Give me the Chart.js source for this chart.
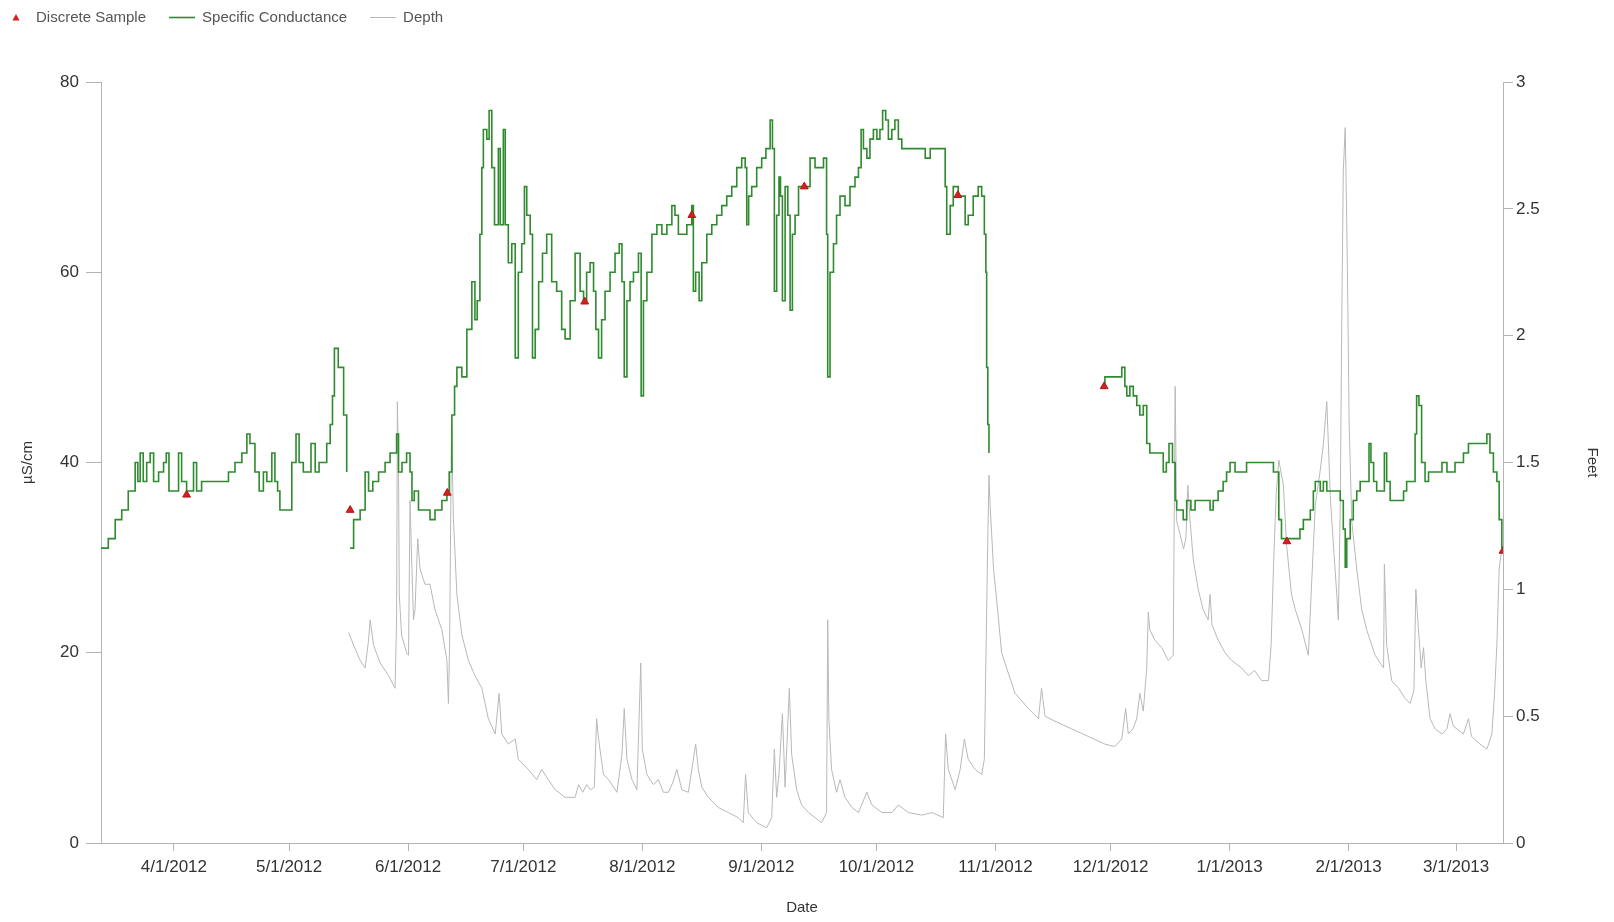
<!DOCTYPE html>
<html>
<head>
<meta charset="utf-8">
<title>Specific Conductance and Depth</title>
<script src="https://cdn.jsdelivr.net/npm/chart.js@4.4.1/dist/chart.umd.min.js"></script>
<style>
  html, body { margin: 0; padding: 0; background: #ffffff; }
  #wrap { width: 1614px; height: 922px; }
</style>
</head>
<body>
<div id="wrap"><canvas id="chart" width="1614" height="922"></canvas></div>
<script>
// Record period and axis ticks
const startDate = '3/13/2012';
const endDay = 365.2; // days after startDate shown at the right edge
const dateTicks = ['4/1/2012', '5/1/2012', '6/1/2012', '7/1/2012', '8/1/2012', '9/1/2012',
                   '10/1/2012', '11/1/2012', '12/1/2012', '1/1/2013', '2/1/2013', '3/1/2013'];
const scTicks = [0, 20, 40, 60, 80];
const depthTicks = [0, 0.5, 1, 1.5, 2, 2.5, 3];

// Discrete samples (days after startDate, µS/cm)
const sampleDay   = [22.3, 64.9, 90.2, 126.0, 153.9, 183.2, 223.2, 261.3, 308.9, 365.2];
const sampleValue = [36.6, 35.0, 36.8, 56.9, 66.0, 69.0, 68.1, 48.0, 31.7, 30.7];

// Continuous specific conductance (days after startDate, µS/cm); null = no record
const scDay = [
  0, 1.9, 3.7, 5.4, 7.1, 8.4, 8.9, 9.6, 10.2, 11.0, 11.9, 12.8, 13.7, 15.0, 16.3, 17.0, 17.7, 18.9,
  20.2, 21.0, 22.3, 24.1, 24.9, 26.2, 30.6, 31.9, 33.2, 34.9, 36.7, 38.0, 38.8, 40.1, 41.2, 42.3,
  43.2, 44.5, 45.3, 46.0, 46.6, 48.4, 49.7, 50.8, 51.6, 52.7, 54.7, 55.8, 56.8, 57.9, 58.8, 59.7,
  60.3, 60.8, 61.0, 61.8, 62.3, 63.2, 64.0, 64.4,
  64.9, 65.8, 66.6, 67.5, 68.8, 69.7, 70.8, 72.3, 74.0, 75.3, 76.6, 77.0, 77.5, 78.4, 79.6, 80.5,
  81.0, 81.6, 82.7, 84.0, 85.7, 87.0, 88.8, 90.1, 90.7, 91.4, 92.1, 92.7, 94.0, 95.3, 96.6, 97.4,
  98.0, 98.7, 99.2, 99.6, 100.5, 101.1, 101.8, 102.5, 103.5, 104.0, 104.8, 105.3, 106.1, 107.0,
  107.9, 108.7, 109.6, 110.3, 110.9, 111.8, 112.4, 113.1, 114.0, 115.0, 116.1, 117.4, 118.7, 120.0,
  120.9, 122.2, 123.5, 124.8, 125.7, 126.5, 127.4, 128.3, 128.9, 129.6, 130.4, 131.3, 132.6, 133.9,
  135.0, 135.7, 136.3, 137.0, 137.8, 138.7, 140.0, 140.7, 141.3, 142.2, 143.5, 144.8, 146.1, 147.4,
  148.7, 149.5, 150.4, 151.3, 152.6, 153.9, 154.3, 154.9, 155.8, 156.5, 157.8, 159.1, 160.4, 161.7,
  163.0, 164.3, 165.6, 166.9, 167.8, 168.2, 168.7, 169.5, 170.8, 172.1, 173.2, 174.3, 174.9, 175.4,
  176.0, 176.6, 177.0, 177.5, 178.2, 178.9, 179.5, 180.1, 180.8, 181.7, 182.5, 183.4, 184.7, 186.0,
  187.3, 188.2, 189.0, 189.3, 189.9, 190.8, 191.6, 192.5, 193.8, 195.1, 196.4, 197.3, 198.0, 198.6,
  199.5, 200.3, 201.2, 202.1, 202.9, 203.6, 204.4, 205.1, 206.0, 206.8, 207.7, 208.6, 212.0, 214.7,
  216.0, 219.4, 219.9, 220.3, 221.2, 222.0, 223.3, 224.2, 225.1, 225.9, 227.2, 228.5, 229.4, 230.1,
  230.5, 230.7, 231.0, 231.3, 231.6,
  261.3, 261.5, 263.0, 264.6, 265.9, 266.7, 267.2, 268.0, 268.9, 269.8, 270.6, 271.5, 272.4, 273.2,
  274.5, 275.9, 276.7, 277.5, 278.2, 279.1, 279.8, 280.2, 281.1, 281.9, 282.8, 283.9, 285.0, 286.7,
  287.8, 288.9, 289.7, 291.0, 292.3, 293.2, 294.1, 295.4, 297.1, 298.4, 300.2, 301.0, 302.8, 304.1,
  305.4, 306.2, 306.8, 307.5, 308.4, 309.0, 310.6, 311.1, 312.3, 313.2, 314.1, 315.0, 315.8, 316.3,
  317.6, 318.4, 319.3, 320.2, 321.0, 321.9, 322.8, 323.6, 324.1, 324.5, 325.4, 326.2, 327.1, 328.0,
  329.3, 330.3, 330.8, 331.5, 332.3, 333.3, 334.3, 334.9, 335.8, 337.1, 339.3, 340.1, 341.4, 342.3,
  342.7, 343.3, 344.0, 344.9, 345.8, 346.7, 348.0, 349.3, 350.6, 351.9, 352.7, 354.0, 354.9, 356.2,
  358.0, 359.7, 361.0, 361.8, 362.7, 363.6, 364.2, 364.9
];
const scValue = [
  31, 32, 34, 35, 37, 37, 40, 38, 41, 38, 40, 41, 38, 39, 40, 41, 37, 37,
  41, 38, 37, 40, 37, 38, 38, 38, 39, 40, 41, 43, 42, 39, 37, 39,
  38, 41, 38, 37, 35, 35, 40, 43, 40, 39, 42, 39, 40, 40, 42, 44,
  47, 52, 52, 50, 50, 45, 39, null,
  31, 34, 34, 35, 39, 37, 38, 39, 40, 41, 41, 43, 39, 40, 41, 39,
  36, 37, 35, 35, 34, 35, 36, 37, 39, 45, 48, 50, 49, 54, 59, 55,
  57, 64, 71, 75, 74, 77, 71, 65, 73, 65, 75, 65, 61, 63,
  51, 60, 63, 69, 66, 64, 51, 54, 59, 62, 64, 59, 58, 54,
  53, 57, 62, 58, 57, 60, 61, 58, 54, 51, 55, 58, 60, 62,
  63, 59, 49, 57, 59, 60, 62, 47, 57, 60, 64, 65, 64, 65,
  67, 66, 64, 64, 65, 67, 58, 60, 57, 61, 64, 65, 66, 67,
  68, 69, 71, 72, 71, 65, 68, 69, 71, 72, 73, 76, 73, 58,
  66, 70, 68, 57, 69, 66, 56, 64, 66, 69, 69, 69, 72, 71,
  71, 72, 64, 49, 60, 63, 66, 68, 67, 69, 70, 71, 75, 73,
  72, 74, 75, 74, 75, 77, 76, 74, 75, 76, 74, 73, 73, 72,
  73, 73, 69, 64, 67, 69, 68, 68, 65, 66, 68, 69, 68, 64,
  60, 50, 44, 41, null,
  48, 49, 49, 49, 50, 48, 47, 48, 47, 46, 45, 46, 42, 41,
  41, 41, 39, 40, 42, 40, 36, 35, 35, 34, 36, 35, 36, 36,
  36, 35, 36, 37, 38, 39, 40, 39, 39, 40, 40, 40, 40, 40,
  39, 39, 34, 32, 32, 32, 32, 32, 33, 34, 34, 35, 37, 38,
  37, 38, 37, 37, 37, 37, 36, 33, 29, 32, 34, 36, 37, 38,
  38, 42, 40, 38, 37, 37, 41, 38, 36, 36, 37, 38, 38, 43,
  47, 46, 40, 38, 39, 39, 39, 40, 39, 39, 40, 40, 41, 42,
  42, 42, 43, 41, 39, 38, 34, 31
];

// Gage depth (days after startDate, feet)
const depthDay = [
  64.5, 65.8, 67.5, 68.8, 69.7, 70.1, 71.0, 72.7, 74.9, 76.6, 77.0, 77.2, 77.5, 77.7, 78.3, 79.6,
  80.1, 80.5, 80.8, 81.4, 81.8, 82.5, 83.1, 84.4, 85.7, 87.0, 88.8, 90.1, 90.5, 90.8, 91.3, 91.8,
  92.7, 94.0, 95.7, 97.4, 99.2, 100.9, 102.7, 103.7, 104.4, 106.1, 107.9, 108.7, 111.3, 113.5,
  114.8, 116.5, 118.3, 120.9, 123.5, 124.4, 125.5, 126.5, 127.5, 128.5, 129.1, 129.6, 130.9, 132.2,
  134.4, 135.7, 136.3, 137.0, 138.3, 139.6, 140.6, 141.0, 142.2, 143.9, 145.2, 146.5, 147.8, 149.0,
  150.0, 151.3, 153.0, 154.9, 155.6, 156.5, 158.2, 160.8, 163.4, 166.0, 167.3, 167.9, 168.6, 170.8,
  173.4, 174.7, 175.4, 176.0, 176.6, 177.5, 178.2, 179.3, 179.9, 181.2, 182.5, 184.3, 186.0, 187.7,
  189.0, 189.3, 189.6, 190.3, 191.6, 192.5, 193.8, 195.6, 197.3, 199.5, 200.8, 203.4, 206.0, 207.7,
  210.3, 213.8, 216.5, 219.4, 220.0, 220.7, 222.5, 223.8, 224.9, 225.9, 227.7, 229.4, 230.1, 231.0,
  231.3, 231.6, 232.5, 233.8, 234.6, 235.9, 238.1, 241.6, 244.2, 245.0, 245.9, 248.5, 252.8, 257.2,
  261.5, 264.1, 265.9, 266.9, 267.6, 268.8, 269.8, 270.6, 271.5, 272.4, 272.8, 273.2, 274.5, 276.3,
  278.0, 279.3, 279.8, 280.2, 281.0, 282.0, 282.6, 283.1, 283.7, 284.5, 285.8, 287.1, 288.4, 288.9,
  289.4, 291.0, 292.8, 294.5, 297.1, 298.9, 300.5, 302.3, 304.1, 304.8, 305.4, 306.1, 306.8, 308.0,
  308.8, 310.1, 311.1, 312.8, 314.5, 315.4, 316.3, 317.6, 318.4, 319.3, 319.7, 320.2, 321.0, 321.9,
  322.3, 322.8, 323.2, 323.6, 324.1, 324.5, 324.8, 325.1, 325.8, 327.1, 328.4, 329.7, 331.0, 331.9,
  334.1, 334.3, 334.9, 336.2, 338.0, 339.7, 341.0, 342.0, 342.5, 343.0, 343.9, 344.5, 345.1, 346.2,
  347.5, 349.3, 350.6, 351.4, 352.3, 354.9, 356.2, 357.0, 359.2, 361.0, 362.3, 363.0, 363.6, 364.2,
  364.8
];
const depthFeet = [
  0.83, 0.78, 0.72, 0.69, 0.80, 0.88, 0.78, 0.71, 0.66, 0.61, 0.88, 1.74, 1.47, 0.98, 0.82, 0.75,
  0.74, 1.35, 1.18, 0.88, 0.92, 1.20, 1.08, 1.02, 1.02, 0.92, 0.84, 0.72, 0.55, 0.78, 1.65, 1.28,
  0.98, 0.82, 0.72, 0.66, 0.61, 0.49, 0.43, 0.59, 0.43, 0.39, 0.41, 0.33, 0.29, 0.25,
  0.29, 0.25, 0.21, 0.18, 0.18, 0.23, 0.20, 0.23, 0.21, 0.22, 0.49, 0.41, 0.27, 0.25,
  0.20, 0.35, 0.53, 0.33, 0.25, 0.21, 0.71, 0.37, 0.27, 0.23, 0.25, 0.20, 0.20, 0.24,
  0.29, 0.21, 0.20, 0.39, 0.29, 0.22, 0.18, 0.14, 0.12, 0.10, 0.08, 0.27, 0.12, 0.08,
  0.06, 0.10, 0.37, 0.18, 0.27, 0.51, 0.22, 0.61, 0.35, 0.21, 0.15, 0.12, 0.10, 0.08,
  0.12, 0.88, 0.49, 0.29, 0.20, 0.25, 0.18, 0.14, 0.12, 0.20, 0.15, 0.12, 0.12, 0.15,
  0.12, 0.11, 0.12, 0.10, 0.43, 0.29, 0.21, 0.29, 0.41, 0.33, 0.29, 0.27, 0.33, 1.20,
  1.45, 1.33, 1.08, 0.88, 0.75, 0.69, 0.59, 0.53, 0.49, 0.61, 0.50, 0.48, 0.45, 0.42,
  0.39, 0.38, 0.41, 0.53, 0.43, 0.45, 0.49, 0.59, 0.52, 0.69, 0.91, 0.84, 0.80, 0.77,
  0.72, 0.74, 1.80, 1.27, 1.22, 1.16, 1.20, 1.41, 1.27, 1.12, 1.00, 0.92, 0.88, 0.98,
  0.86, 0.80, 0.75, 0.72, 0.69, 0.66, 0.68, 0.64, 0.64, 0.78, 1.08, 1.37, 1.51, 1.41,
  1.18, 0.98, 0.92, 0.84, 0.74, 1.04, 1.33, 1.47, 1.57, 1.74, 1.58, 1.37, 1.18, 0.98,
  0.88, 1.31, 2.06, 2.65, 2.82, 2.45, 2.10, 1.67, 1.27, 1.08, 0.92, 0.84, 0.78, 0.74,
  0.69, 1.10, 0.78, 0.64, 0.61, 0.57, 0.55, 0.60, 1.00, 0.88, 0.69, 0.77, 0.64, 0.49,
  0.45, 0.43, 0.45, 0.51, 0.46, 0.43, 0.49, 0.42, 0.39, 0.37, 0.43, 0.59, 0.78, 1.08,
  1.15
];

// Day offsets for the date ticks
function parseMDY(s) {
  const [m, d, y] = s.split('/').map(Number);
  return Date.UTC(y, m - 1, d);
}
const DAY_MS = 86400000;
const t0 = parseMDY(startDate);
const tickDays = dateTicks.map(s => (parseMDY(s) - t0) / DAY_MS);
const tickLabelByDay = new Map(tickDays.map((d, i) => [d, dateTicks[i]]));

const pairs = (xs, ys) => xs.map((x, i) => ({ x: x, y: ys[i] }));

const FONT = "'Liberation Sans', Arial, sans-serif";
const AXIS_GRAY = '#b4b4b4';
const TEXT = '#333333';

// Single-row legend drawn above the plot from the dataset styles
const legendRow = {
  id: 'legendRow',
  afterDraw(chart, args, opts) {
    const ctx = chart.ctx;
    ctx.save();
    ctx.font = opts.font;
    ctx.textBaseline = 'middle';
    ctx.textAlign = 'left';
    let x = opts.x;
    const y = opts.y;
    const w = opts.symbolWidth;
    chart.data.datasets.forEach(ds => {
      if (ds.showLine === false) {
        const cx = x + w / 2, r = 3.6;
        ctx.beginPath();
        ctx.moveTo(cx, y - r);
        ctx.lineTo(cx + r, y + r * 0.8);
        ctx.lineTo(cx - r, y + r * 0.8);
        ctx.closePath();
        ctx.fillStyle = ds.backgroundColor;
        ctx.fill();
      } else {
        ctx.beginPath();
        ctx.moveTo(x, y);
        ctx.lineTo(x + w, y);
        ctx.strokeStyle = ds.borderColor;
        ctx.lineWidth = ds.borderWidth;
        ctx.stroke();
      }
      ctx.fillStyle = opts.color;
      ctx.fillText(ds.label, x + w + opts.gap, y);
      x += w + opts.gap + ctx.measureText(ds.label).width + opts.spacing;
    });
    ctx.restore();
  }
};

new Chart(document.getElementById('chart'), {
  type: 'line',
  data: {
    datasets: [
      {
        label: 'Discrete Sample',
        data: pairs(sampleDay, sampleValue),
        yAxisID: 'y',
        showLine: false,
        pointStyle: 'triangle',
        pointRadius: 4.5,
        pointBackgroundColor: '#d42020',
        pointBorderColor: '#b01818',
        pointBorderWidth: 1,
        backgroundColor: '#d42020',
        borderColor: '#d42020'
      },
      {
        label: 'Specific Conductance',
        data: pairs(scDay, scValue),
        yAxisID: 'y',
        borderColor: '#2e8b2e',
        borderWidth: 1.6,
        pointRadius: 0,
        stepped: true,
        spanGaps: false
      },
      {
        label: 'Depth',
        data: pairs(depthDay, depthFeet),
        yAxisID: 'y1',
        borderColor: '#b8b8b8',
        borderWidth: 1,
        pointRadius: 0,
        tension: 0
      }
    ]
  },
  options: {
    responsive: false,
    devicePixelRatio: 1,
    animation: false,
    layout: { padding: { top: 82, left: 0, right: 0, bottom: 0 } },
    plugins: {
      legend: { display: false },
      tooltip: { enabled: false },
      legendRow: {
        x: 3, y: 17.5, symbolWidth: 26, gap: 7, spacing: 23,
        font: "15px " + FONT, color: '#555555'
      }
    },
    scales: {
      x: {
        type: 'linear',
        min: 0,
        max: endDay,
        afterBuildTicks: s => { s.ticks = tickDays.map(v => ({ value: v })); },
        afterFit: s => { s.height = 79; },
        ticks: {
          autoSkip: false,
          maxRotation: 0,
          padding: 6,
          color: TEXT,
          font: { family: FONT, size: 17 },
          callback: v => tickLabelByDay.get(v) || ''
        },
        grid: { drawOnChartArea: false, drawTicks: true, tickLength: 8, color: AXIS_GRAY },
        border: { display: true, color: AXIS_GRAY, width: 1 },
        title: { display: true, text: 'Date', color: TEXT, font: { family: FONT, size: 15 }, padding: { top: 0, bottom: 5 } }
      },
      y: {
        position: 'left',
        min: 0,
        max: 80,
        afterBuildTicks: s => { s.ticks = scTicks.map(v => ({ value: v })); },
        afterFit: s => { s.width = 101; },
        ticks: { padding: 7, color: TEXT, font: { family: FONT, size: 17 }, callback: v => String(v) },
        grid: { drawOnChartArea: false, drawTicks: true, tickLength: 15, color: AXIS_GRAY },
        border: { display: true, color: AXIS_GRAY, width: 1 },
        title: { display: true, text: 'µS/cm', color: TEXT, font: { family: FONT, size: 15 }, padding: { top: 19, bottom: 0 } }
      },
      y1: {
        position: 'right',
        min: 0,
        max: 3,
        afterBuildTicks: s => { s.ticks = depthTicks.map(v => ({ value: v })); },
        afterFit: s => { s.width = 111; },
        ticks: { padding: 3, color: TEXT, font: { family: FONT, size: 17 }, callback: v => String(v) },
        grid: { drawOnChartArea: false, drawTicks: true, tickLength: 10, color: AXIS_GRAY },
        border: { display: true, color: AXIS_GRAY, width: 1 },
        title: { display: true, text: 'Feet', color: TEXT, font: { family: FONT, size: 15 }, padding: { top: 13, bottom: 0 } }
      }
    }
  },
  plugins: [legendRow]
});
</script>
</body>
</html>
